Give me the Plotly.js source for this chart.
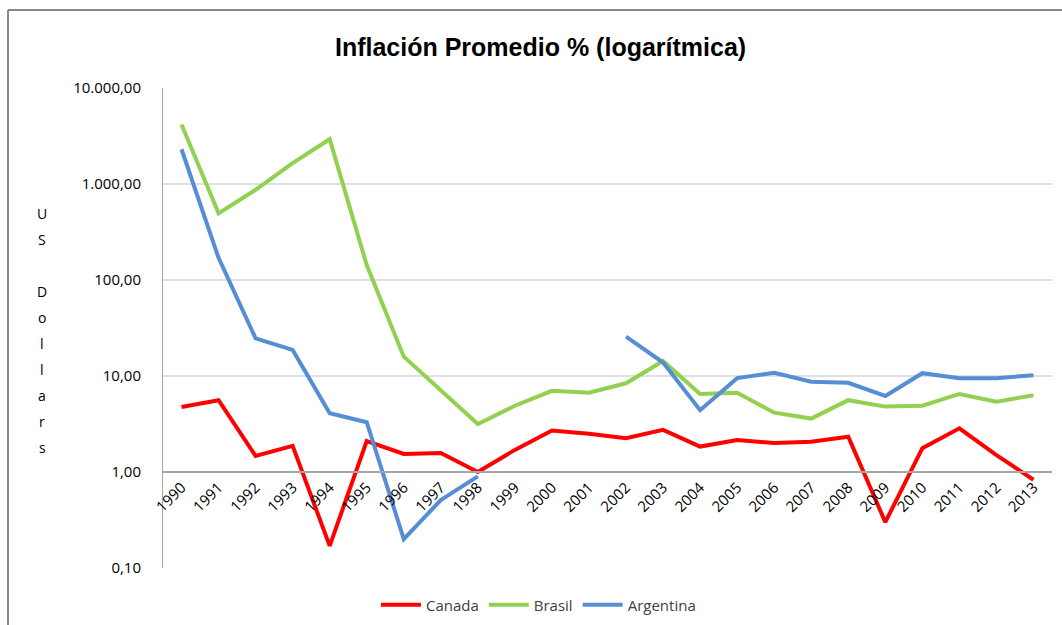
<!DOCTYPE html>
<html>
<head>
<meta charset="utf-8">
<script src="https://cdn.plot.ly/plotly-3.0.1.min.js"></script>
<style>
html,body{margin:0;padding:0;background:#fff;}
#chart{width:1062px;height:625px;}
</style>
</head>
<body>
<div id="chart"></div>
<script>
const years = ['1990','1991','1992','1993','1994','1995','1996','1997','1998','1999','2000','2001','2002','2003','2004','2005','2006','2007','2008','2009','2010','2011','2012','2013'];
const canada = [4.75,5.6,1.47,1.87,0.17,2.1,1.54,1.58,1.0,1.7,2.7,2.5,2.25,2.75,1.84,2.15,2.0,2.07,2.33,0.30,1.77,2.85,1.5,0.83];
const brasil = [4170,495,870,1650,2925,143,15.9,7.1,3.16,4.9,7.0,6.7,8.4,14.3,6.5,6.7,4.15,3.6,5.6,4.8,4.9,6.5,5.4,6.3];
const argentina = [2300,170,24.7,18.7,4.1,3.3,0.20,0.51,0.9,null,null,null,25.7,13.8,4.4,9.5,10.8,8.7,8.5,6.2,10.7,9.5,9.5,10.2];
const tickVals = [0.1,1,10,100,1000,10000];
const tickText = ['0,10','1,00','10,00','100,00','1.000,00','10.000,00'];
const yTitle = 'US Dollars';

const font = "'Open Sans', 'Noto Sans', sans-serif";
const mk = (name, y, color) => ({
  x: years, y: y, name: name, type: 'scatter', mode: 'lines',
  line: {color: color, width: 4}, connectgaps: false
});
const traces = [
  mk('Canada', canada, '#FF0000'),
  mk('Brasil', brasil, '#92D050'),
  mk('Argentina', argentina, '#558ED5')
];

const annotations = [];
yTitle.split('').forEach((c, i) => {
  if (c === ' ') return;
  const py = 213 + i * 26;
  annotations.push({
    xref: 'paper', yref: 'paper',
    x: (42 - 163) / 889, y: (568 - py) / 480,
    text: c, showarrow: false, xanchor: 'center', yanchor: 'middle',
    font: {family: font, size: 14, color: '#000'}
  });
});

const layout = {
  width: 1062, height: 625,
  margin: {l: 163, r: 10, t: 88, b: 57},
  paper_bgcolor: '#fff', plot_bgcolor: '#fff',
  title: {
    text: '<b>Inflación Promedio % (logarítmica)</b>',
    font: {family: "'Liberation Sans', Arial, sans-serif", size: 25, color: '#000'},
    x: 0.509, xref: 'container', xanchor: 'center',
    y: 1 - 47/625, yref: 'container', yanchor: 'middle'
  },
  xaxis: {
    type: 'category', range: [-0.5, 23.5],
    anchor: 'free', position: 0.2,
    showline: true, linecolor: '#A6A6A6', linewidth: 2,
    showgrid: false, ticks: '', tickangle: -45,
    tickfont: {family: font, size: 15, color: '#000'},
    fixedrange: true
  },
  yaxis: {
    type: 'log', range: [-1, 4],
    tickvals: tickVals, ticktext: tickText,
    showline: true, linecolor: '#A6A6A6', linewidth: 1,
    gridcolor: '#E0E0E0', gridwidth: 1.5,
    ticks: '', ticklabelstandoff: 18,
    tickfont: {family: font, size: 15, color: '#000'},
    zeroline: false
  },
  showlegend: true,
  legend: {
    orientation: 'h', xref: 'container', x: 0.507, xanchor: 'center',
    yref: 'container', y: 1 - 605/625, yanchor: 'middle',
    font: {family: font, size: 15, color: '#404040'},
    itemwidth: 40
  },
  annotations: annotations,
  shapes: [
    {type: 'line', xref: 'paper', yref: 'paper', x0: (8-163)/889, x1: (8-163)/889, y0: (568-10)/480, y1: (568-625)/480, line: {color: '#888', width: 2}},
    {type: 'line', xref: 'paper', yref: 'paper', x0: (8-163)/889, x1: (1062-163)/889, y0: (568-10)/480, y1: (568-10)/480, line: {color: '#888', width: 2}}
  ]
};

Plotly.newPlot('chart', traces, layout, {displayModeBar: false, staticPlot: true});
</script>
</body>
</html>
